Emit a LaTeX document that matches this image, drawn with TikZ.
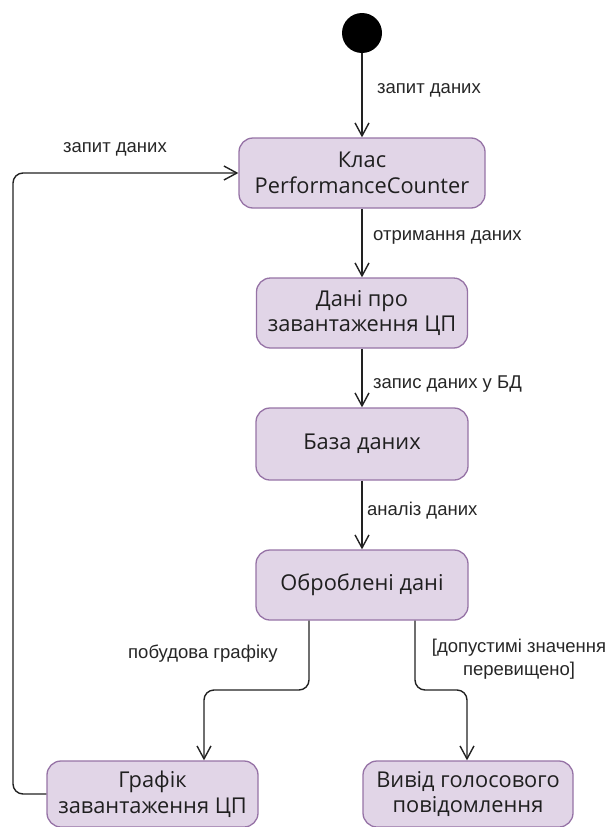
\documentclass[tikz,border=0pt]{standalone}
\usepackage{fontspec}
\setmainfont{Open Sans}
\newfontfamily\labelfont{Liberation Sans}
\usetikzlibrary{arrows.meta}
\definecolor{boxfill}{HTML}{E1D5E7}
\definecolor{boxline}{HTML}{9673A6}
\definecolor{lineclr}{HTML}{222222}
\begin{document}
\begin{tikzpicture}[x=1pt,y=-1pt,
  statebox/.style={draw=boxline, fill=boxfill, line width=1.3pt, rounded corners=14pt,
    align=center, inner sep=0pt, text=black!88, font=\fontsize{21.8}{25.5}\selectfont},
  arr/.style={draw=lineclr, line width=1.4pt, -{Straight Barb[length=13pt,width=14pt,line width=1.4pt]}},
  lbl/.style={font=\labelfont\fontsize{18.5}{23}\selectfont, inner sep=0pt, text=black!85}
]
\useasboundingbox (0,0) rectangle (613,827);
\node[circle, fill=black, minimum size=40pt, inner sep=0pt] (init) at (362,33) {};
\node[statebox, minimum width=246pt, minimum height=70pt] (b1) at (362,173) {Клас\\PerformanceCounter};
\node[statebox, minimum width=211pt, minimum height=70pt] (b2) at (362,313) {Дані про\\завантаження ЦП};
\node[statebox, minimum width=212pt, minimum height=72pt] (b3) at (362,444) {База даних};
\node[statebox, minimum width=212pt, minimum height=70pt] (b4) at (362,585) {Оброблені дані};
\node[statebox, minimum width=211pt, minimum height=66pt] (b5) at (152.5,794) {Графік\\завантаження ЦП};
\node[statebox, minimum width=210pt, minimum height=66pt] (b6) at (468,794) {Вивід голосового\\повідомлення};

\draw[arr] (init) -- (b1);
\draw[arr] (b1) -- (b2);
\draw[arr] (b2) -- (b3);
\draw[arr] (b3) -- (b4);

\coordinate (lb) at (309,690);
\coordinate (lc) at (204,690);
\draw[arr, rounded corners=10pt] (b4.south -| lb) -- (lb) -- (lc) -- (lc |- b5.north);
\coordinate (rb) at (415,690);
\coordinate (rc) at (467,690);
\draw[arr, rounded corners=10pt] (b4.south -| rb) -- (rb) -- (rc) -- (rc |- b6.north);
\coordinate (lp1) at (13,794);
\coordinate (lp2) at (13,173);
\draw[arr, rounded corners=10pt] (b5.west) -- (lp1) -- (lp2) -- (b1.west);

\node[lbl, anchor=west] (t1) at (377,90) {запит даних};
\node[lbl, anchor=west] (t2) at (373,237) {отримання даних};
\node[lbl, anchor=west] (t3) at (373,384) {запис даних у БД};
\node[lbl, anchor=west] (t4) at (367,511) {аналіз даних};
\node[lbl, anchor=west] (t5) at (128,654) {побудова графіку};
\node[lbl, align=center] (t6) at (519,659) {[допустимі значення\\перевищено]};
\node[lbl, anchor=west] (t7) at (63,149) {запит даних};
\end{tikzpicture}
\end{document}
